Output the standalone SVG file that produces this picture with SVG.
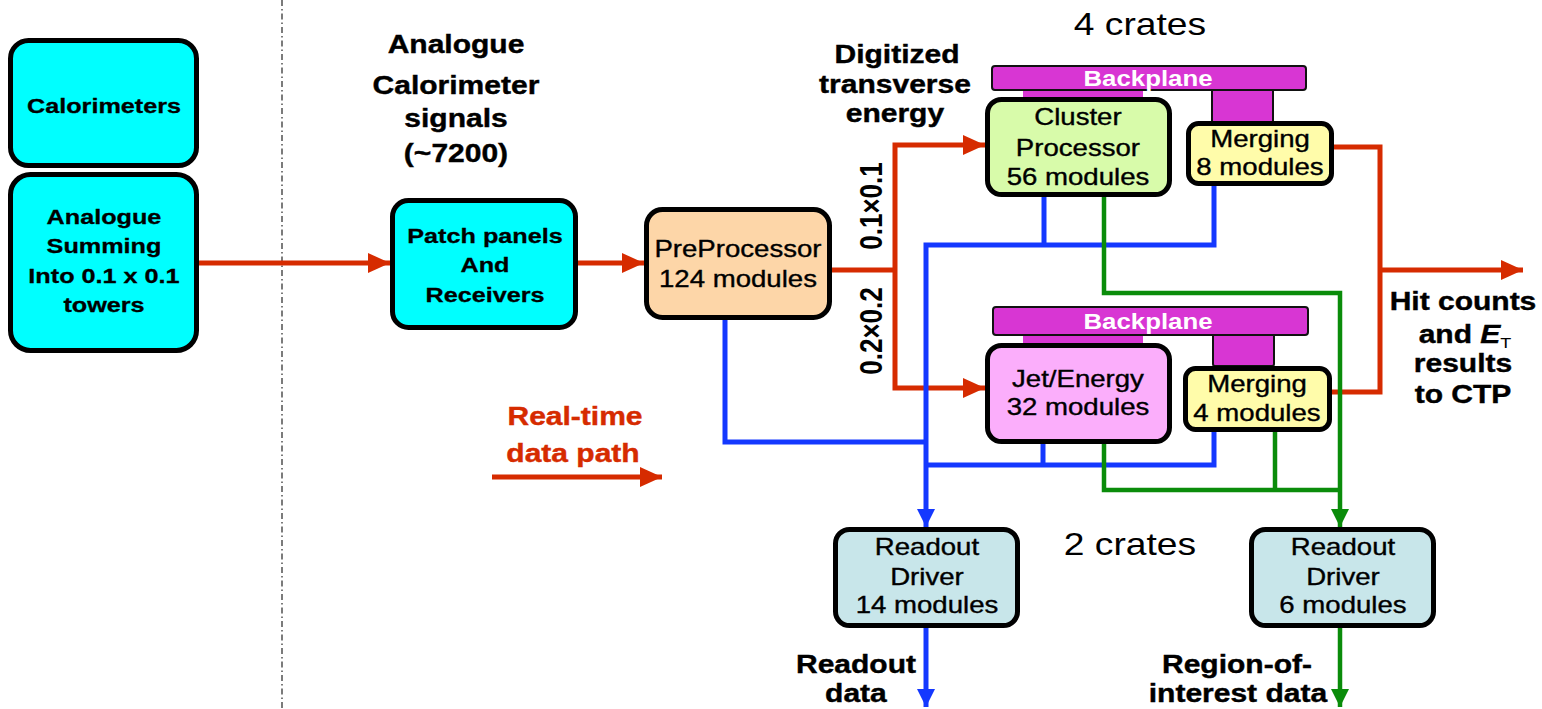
<svg xmlns="http://www.w3.org/2000/svg" width="1542" height="709" viewBox="0 0 1542 709">
  <style>
    .box{stroke:#000;stroke-width:5}
    .cyan{fill:#00FFFF}
    .peach{fill:#FDD6A8}
    .green{fill:#D8FBAA}
    .yellow{fill:#FFFCAA}
    .pink{fill:#FBAEFB}
    .ro{fill:#C8E6EA}
    .bp{fill:#D836D3;stroke:#111;stroke-width:2}
    .bpc{fill:#D836D3}
    .t{font-family:"Liberation Sans",Arial,sans-serif;text-anchor:middle;transform-box:fill-box;transform-origin:center;transform:scaleX(1.2)}
    .r{font-family:"Liberation Sans",Arial,sans-serif;text-anchor:middle;font-weight:bold;font-size:26px}
    .hd{font-size:25px;font-weight:bold;stroke:#000;stroke-width:0.4}
    .in{font-size:21px;font-weight:bold;stroke:#000;stroke-width:0.3}
    .md{font-size:23px;stroke:#000;stroke-width:0.35}
    .cr{font-size:31px}
    .wt{fill:#fff;font-size:21.5px;font-weight:bold}
    .rt{fill:#D62B00;stroke:#D62B00}
    .lr{fill:none;stroke:#D62B00;stroke-width:5}
    .lb{fill:none;stroke:#1438FF;stroke-width:5}
    .lg{fill:none;stroke:#0A8C0A;stroke-width:4.5}
  </style>
  <defs>
    <marker id="ar" markerUnits="userSpaceOnUse" markerWidth="22" markerHeight="20" viewBox="0 0 22 20" refX="22" refY="10" orient="auto">
      <path d="M0,0 L22,10 L0,20 z" fill="#D62B00"/>
    </marker>
    <marker id="ab" markerUnits="userSpaceOnUse" markerWidth="18" markerHeight="18" viewBox="0 0 18 18" refX="18" refY="9" orient="auto">
      <path d="M0,0 L18,9 L0,18 z" fill="#1438FF"/>
    </marker>
    <marker id="ag" markerUnits="userSpaceOnUse" markerWidth="18" markerHeight="18" viewBox="0 0 18 18" refX="18" refY="9" orient="auto">
      <path d="M0,0 L18,9 L0,18 z" fill="#0A8C0A"/>
    </marker>
  </defs>

  <rect width="1542" height="709" fill="#fff"/>

  <!-- divider between detector side and trigger electronics -->
  <line x1="282" y1="0" x2="282" y2="709" stroke="#444" stroke-width="1.4" stroke-dasharray="6 3 1.5 3"/>

  <!-- headings -->
  <g id="headings">
    <text class="t hd" x="456" y="53">Analogue</text>
    <text class="t hd" x="456" y="94">Calorimeter</text>
    <text class="t hd" x="456" y="127">signals</text>
    <text class="t hd" x="456" y="162">(~7200)</text>
    <text class="t hd" x="897" y="63">Digitized</text>
    <text class="t hd" x="895" y="93">transverse</text>
    <text class="t hd" x="895" y="122">energy</text>
    <text class="t cr" x="1140" y="35">4 crates</text>
    <text class="t cr" x="1130" y="555">2 crates</text>
    <text class="r" transform="translate(882,206) scale(1.2,1) rotate(-90)">0.1×0.1</text>
    <text class="r" transform="translate(882,331) scale(1.2,1) rotate(-90)">0.2×0.2</text>
  </g>

  <!-- connectors -->
  <g id="connectors">
    <path class="lr" d="M197,263 H390" marker-end="url(#ar)"/>
    <path class="lr" d="M578,263 H644" marker-end="url(#ar)"/>
    <path class="lr" d="M832,270 H895"/>
    <path class="lr" d="M895,270 V145 H985" marker-end="url(#ar)"/>
    <path class="lr" d="M895,270 V388 H985" marker-end="url(#ar)"/>
    <path class="lr" d="M1334,147 H1380 V392 H1332"/>
    <path class="lr" d="M1380,270 H1523" marker-end="url(#ar)"/>

    <path class="lb" d="M725,320 V442 H926"/>
    <path class="lb" d="M1044,197 V245"/>
    <path class="lb" d="M1214,186 V245 H926 V527" marker-end="url(#ab)"/>
    <path class="lb" d="M1043,444 V465"/>
    <path class="lb" d="M1214,432 V465 H926"/>
    <path class="lb" d="M926,628 V707" marker-end="url(#ab)"/>

    <path class="lg" d="M1104,197 V293 H1340 V527" marker-end="url(#ag)"/>
    <path class="lg" d="M1104,444 V490 H1340"/>
    <path class="lg" d="M1275,432 V490"/>
    <path class="lg" d="M1340,628 V707" marker-end="url(#ag)"/>
  </g>

  <!-- legend: real-time data path -->
  <g id="legend">
    <text class="t hd rt" x="575" y="425">Real-time</text>
    <text class="t hd rt" x="573" y="462">data path</text>
    <path class="lr" d="M492,477 H662" marker-end="url(#ar)"/>
  </g>

  <g id="calorimeters">
    <rect class="box cyan" x="10.5" y="40.5" width="186" height="125" rx="18"/>
    <text class="t in" x="104" y="113">Calorimeters</text>
  </g>

  <g id="analogue-summing">
    <rect class="box cyan" x="10.5" y="174.5" width="186" height="176" rx="20"/>
    <text class="t in" x="104" y="224">Analogue</text>
    <text class="t in" x="104" y="253">Summing</text>
    <text class="t in" x="104" y="283">Into 0.1 x 0.1</text>
    <text class="t in" x="104" y="312">towers</text>
  </g>

  <g id="patch-panels">
    <rect class="box cyan" x="392.5" y="200.5" width="183" height="127" rx="16"/>
    <text class="t in" x="485" y="243">Patch panels</text>
    <text class="t in" x="485" y="272">And</text>
    <text class="t in" x="485" y="302">Receivers</text>
  </g>

  <g id="preprocessor">
    <rect class="box peach" x="646.5" y="209.5" width="183" height="108" rx="16"/>
    <text class="t md" x="738" y="257">PreProcessor</text>
    <text class="t md" x="738" y="287">124 modules</text>
  </g>

  <g id="backplane-cp">
    <rect class="bpc" x="1023" y="88" width="120" height="11"/>
    <rect class="bp" x="1212" y="88" width="61" height="35" rx="2"/>
    <rect class="bp" x="992" y="66" width="314" height="24" rx="3"/>
    <text class="t wt" x="1148" y="86">Backplane</text>
  </g>

  <g id="cluster-processor">
    <rect class="box green" x="987.5" y="99.5" width="182" height="95" rx="14"/>
    <text class="t md" x="1078" y="125">Cluster</text>
    <text class="t md" x="1078" y="156">Processor</text>
    <text class="t md" x="1078" y="185">56 modules</text>
  </g>

  <g id="merging-cp">
    <rect class="box yellow" x="1188.5" y="123.5" width="143" height="60" rx="10"/>
    <text class="t md" x="1260" y="147">Merging</text>
    <text class="t md" x="1260" y="175">8 modules</text>
  </g>

  <g id="backplane-jep">
    <rect class="bpc" x="1023" y="334" width="120" height="12"/>
    <rect class="bp" x="1213" y="334" width="61" height="32" rx="2"/>
    <rect class="bp" x="993" y="307" width="315" height="28" rx="3"/>
    <text class="t wt" x="1148" y="329">Backplane</text>
  </g>

  <g id="jet-energy">
    <rect class="box pink" x="987.5" y="345.5" width="182" height="96" rx="14"/>
    <text class="t md" x="1078" y="387">Jet/Energy</text>
    <text class="t md" x="1078" y="415">32 modules</text>
  </g>

  <g id="merging-jep">
    <rect class="box yellow" x="1185.5" y="368.5" width="144" height="61" rx="10"/>
    <text class="t md" x="1257" y="392">Merging</text>
    <text class="t md" x="1257" y="421">4 modules</text>
  </g>

  <g id="readout-driver-daq">
    <rect class="box ro" x="835.5" y="529.5" width="182" height="96" rx="14"/>
    <text class="t md" x="927" y="555">Readout</text>
    <text class="t md" x="927" y="585">Driver</text>
    <text class="t md" x="927" y="613">14 modules</text>
  </g>

  <g id="readout-driver-roi">
    <rect class="box ro" x="1251.5" y="529.5" width="182" height="96" rx="14"/>
    <text class="t md" x="1343" y="555">Readout</text>
    <text class="t md" x="1343" y="585">Driver</text>
    <text class="t md" x="1343" y="613">6 modules</text>
  </g>

  <g id="outputs">
    <text class="t hd" x="1463" y="310">Hit counts</text>
    <text class="t hd" x="1465" y="343">and <tspan font-style="italic">E</tspan><tspan font-size="15" font-weight="normal" stroke-width="0" dy="5">T</tspan></text>
    <text class="t hd" x="1463" y="372">results</text>
    <text class="t hd" x="1463" y="403">to CTP</text>
    <text class="t hd" x="856" y="673">Readout</text>
    <text class="t hd" x="856" y="702">data</text>
    <text class="t hd" x="1237" y="673">Region-of-</text>
    <text class="t hd" x="1238" y="702">interest data</text>
  </g>
</svg>
